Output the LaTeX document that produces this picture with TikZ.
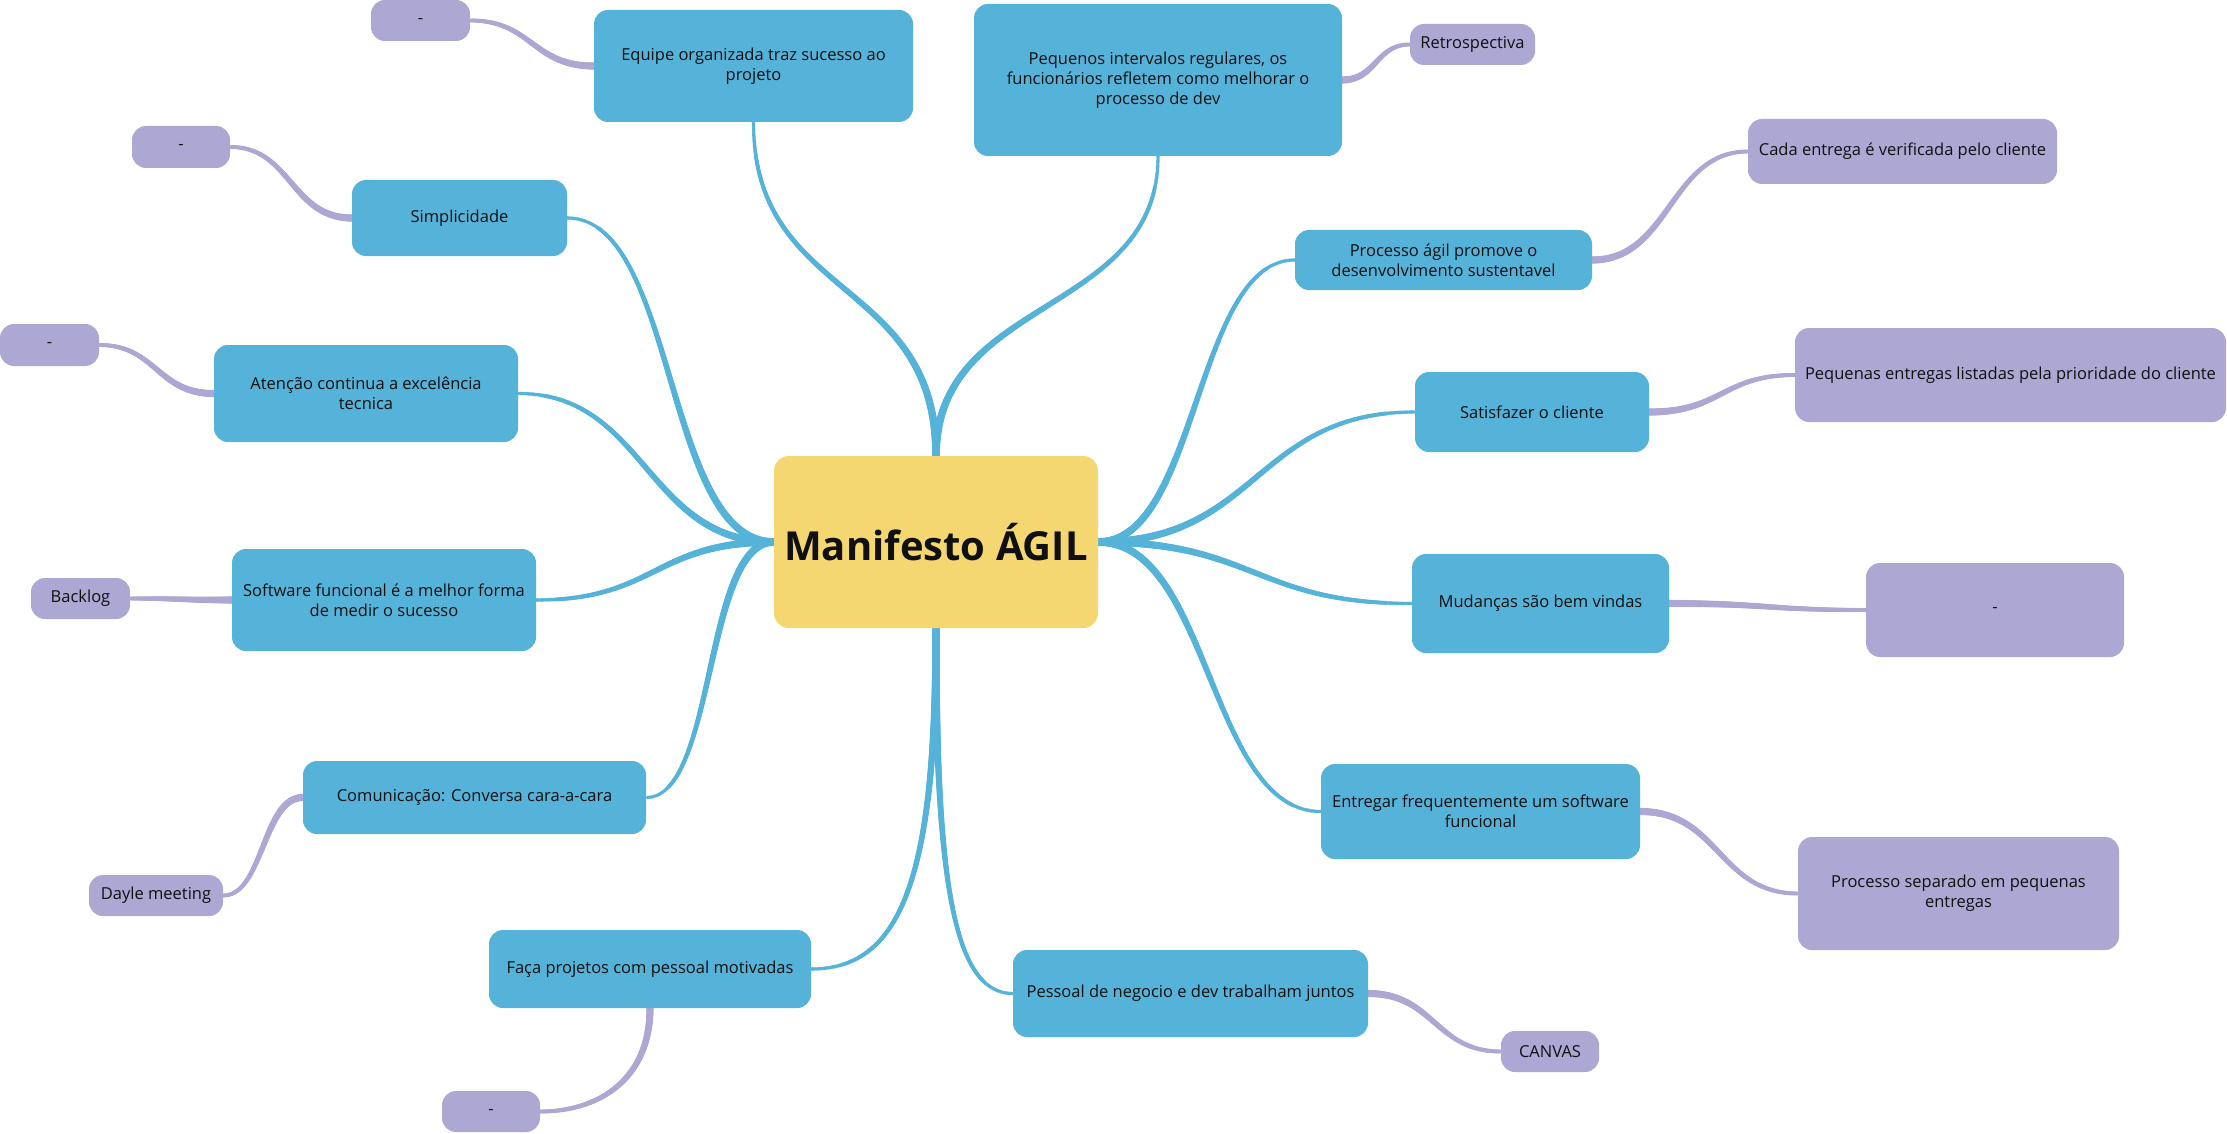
\documentclass[tikz,border=0pt]{standalone}
\usepackage{fontspec}
\setmainfont{Open Sans}
\usetikzlibrary{decorations.markings}
\definecolor{topicblue}{HTML}{55B3D9}
\definecolor{subpurple}{HTML}{ADA7D3}
\definecolor{mainyellow}{HTML}{F4D770}
\definecolor{txt}{HTML}{101010}
\pgfdeclarelayer{bg}
\pgfsetlayers{bg,main}
\tikzset{
  mainbox/.style={fill=mainyellow, rounded corners=15pt, inner sep=0pt, text=txt,
    font=\fontsize{40}{47}\selectfont\bfseries, align=center},
  topicbox/.style={fill=topicblue, rounded corners=14pt, inner sep=0pt, text=txt,
    font=\fontsize{16.5}{20}\selectfont, align=center},
  subbox/.style={fill=subpurple, rounded corners=14pt, inner sep=0pt, text=txt,
    font=\fontsize{16.5}{20}\selectfont, align=center},
  sz/.style 2 args={minimum width=#1pt, minimum height=#2pt},
  taper/.style n args={3}{
    decoration={markings,
      mark=between positions 0 and 1 step 1.2pt with {
        \pgfmathsetmacro\tpr{#2+(#3-#2)*\pgfkeysvalueof{/pgf/decoration/mark info/distance from start}/\pgfdecoratedpathlength}
        \fill[#1] (0pt,0pt) circle (\tpr pt);
      }},
    decorate},
  bline/.style={taper={topicblue}{4}{1.8}},
  pline/.style={taper={subpurple}{3.7}{2}}
}
\begin{document}
\begin{tikzpicture}[x=1pt,y=-1pt]
\useasboundingbox (0,0) rectangle (2227,1134);
\begin{pgfonlayer}{bg}
\fill[white] (0,0) rectangle (2227,1134);
\end{pgfonlayer}
% central node
\node[mainbox, sz={324}{172}] (c) at (936,542) {Manifesto ÁGIL};
% topics
\node[topicbox, sz={319}{112}] (equipe) at (753.5,66) {Equipe organizada traz sucesso ao\\projeto};
\node[topicbox, sz={368}{152}] (peq) at (1158,80) {Pequenos intervalos regulares, os\\funcionários refletem como melhorar o\\processo de dev};
\node[topicbox, sz={215}{76}] (simp) at (459.5,218) {Simplicidade};
\node[topicbox, sz={304}{97}] (aten) at (366,393.5) {Atenção continua a excelência\\tecnica};
\node[topicbox, sz={304}{102}] (soft) at (384,600) {Software funcional é a melhor forma\\de medir o sucesso};
\node[topicbox, sz={343}{73}] (comu) at (474.5,797.5) {Comunicação: Conversa cara-a-cara};
\node[topicbox, sz={322}{78}] (faca) at (650,969) {Faça projetos com pessoal motivadas};
\node[topicbox, sz={297}{60}] (proc) at (1443.5,260) {Processo ágil promove o\\desenvolvimento sustentavel};
\node[topicbox, sz={234}{80}] (sat) at (1532,412) {Satisfazer o cliente};
\node[topicbox, sz={257}{99}] (mud) at (1540.5,603.5) {Mudanças são bem vindas};
\node[topicbox, sz={319}{95}] (entr) at (1480.5,811.5) {Entregar frequentemente um software\\funcional};
\node[topicbox, sz={355}{87}] (pess) at (1190.5,993.5) {Pessoal de negocio e dev trabalham juntos};
% subtopics
\node[subbox, sz={99}{41}] (top1) at (420.5,20.5) {-};
\node[subbox, sz={125}{41}] (retro) at (1472.5,44.5) {Retrospectiva};
\node[subbox, sz={98}{42}] (l1) at (181,147) {-};
\node[subbox, sz={99}{42}] (l2) at (49.5,345) {-};
\node[subbox, sz={99}{41}] (backlog) at (80.5,598.5) {Backlog};
\node[subbox, sz={134}{41}] (dayle) at (156,895.5) {Dayle meeting};
\node[subbox, sz={98}{41}] (bot) at (491,1111.5) {-};
\node[subbox, sz={98}{41}] (canvas) at (1550,1051.5) {CANVAS};
\node[subbox, sz={309}{65}] (cada) at (1902.5,151.5) {Cada entrega é verificada pelo cliente};
\node[subbox, sz={431}{94}] (pequenas) at (2010.5,375) {Pequenas entregas listadas pela prioridade do cliente};
\node[subbox, sz={258}{94}] (rdash) at (1995,610) {-};
\node[subbox, sz={321}{113}] (procsep) at (1958.5,893.5) {Processo separado em pequenas\\entregas};
% connectors
\begin{pgfonlayer}{bg}
\path[bline] (c.north) .. controls +(0,-180) and +(0,180) .. (equipe.south);
\path[bline] (c.north) .. controls +(0,-160) and +(0,160) .. (peq.south);
\path[bline] (c.west) .. controls +(-110,0) and +(110,0) .. (simp.east);
\path[bline] (c.west) .. controls +(-128,0) and +(128,0) .. (aten.east);
\path[bline] (c.west) .. controls +(-120,0) and +(120,0) .. (soft.east);
\path[bline] (c.west) .. controls +(-70,0) and +(70,0) .. (comu.east);
\path[bline] (c.south) .. controls +(0,250) and +(90,0) .. (faca.east);
\path[bline] (c.south) .. controls +(0,250) and +(-60,0) .. (pess.west);
\path[bline] (c.east) .. controls +(100,0) and +(-100,0) .. (proc.west);
\path[bline] (c.east) .. controls +(160,0) and +(-160,0) .. (sat.west);
\path[bline] (c.east) .. controls +(157,0) and +(-157,0) .. (mud.west);
\path[bline] (c.east) .. controls +(112,0) and +(-112,0) .. (entr.west);
\path[pline] (equipe.west) .. controls +(-62,0) and +(62,0) .. (top1.east);
\path[pline] (peq.east) .. controls +(34,0) and +(-34,0) .. (retro.west);
\path[pline] (simp.west) .. controls +(-61,0) and +(61,0) .. (l1.east);
\path[pline] (aten.west) .. controls +(-57,0) and +(57,0) .. (l2.east);
\path[pline] (soft.west) .. controls +(-51,0) and +(51,0) .. (backlog.east);
\path[pline] (comu.west) .. controls +(-40,0) and +(40,0) .. (dayle.east);
\path[pline] (faca.south) .. controls +(0,70) and +(60,0) .. (bot.east);
\path[pline] (pess.east) .. controls +(66,0) and +(-66,0) .. (canvas.west);
\path[pline] (proc.east) .. controls +(78,0) and +(-78,0) .. (cada.west);
\path[pline] (sat.east) .. controls +(73,0) and +(-73,0) .. (pequenas.west);
\path[pline] (mud.east) .. controls +(98,0) and +(-98,0) .. (rdash.west);
\path[pline] (entr.east) .. controls +(79,0) and +(-79,0) .. (procsep.west);
\end{pgfonlayer}
\end{tikzpicture}
\end{document}
